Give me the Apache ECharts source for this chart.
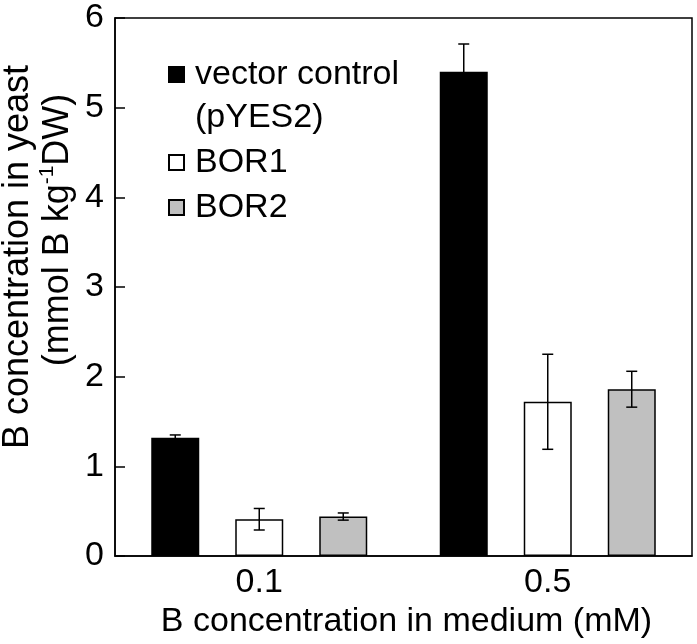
<!DOCTYPE html>
<html><head><meta charset="utf-8">
<script src="https://cdn.jsdelivr.net/npm/echarts@6/dist/echarts.min.js"></script>
<style>html,body{margin:0;padding:0;background:#fff}#c{width:697px;height:644px}</style>
</head><body><div id="c"></div>
<script>
// ---- data ----
const categories = ['0.1', '0.5'];
const seriesNames = ['vector control (pYES2)', 'BOR1', 'BOR2'];
const vectorMean = [1.32, 5.40];
const vectorErr  = [0.03, 0.31];
const bor1Mean   = [0.41, 1.72];
const bor1Err    = [0.12, 0.53];
const bor2Mean   = [0.44, 1.86];
const bor2Err    = [0.04, 0.20];
const yMin = 0, yMax = 6, yStep = 1;
const xTitle = 'B concentration in medium (mM)';
const yTitle1 = 'B concentration in yeast';

// ---- styles ----
const FONT = "'Liberation Sans', Arial, Helvetica, sans-serif";
const FS = 34;
const YFS = 36;
const BAR_W = 48, BAR_GAP = 36, CAP = 5.5;
const fills = ['#000000', '#ffffff', '#c0c0c0'];

const means = [vectorMean, bor1Mean, bor2Mean];
const errs = [vectorErr, bor1Err, bor2Err];
const errData = [];
means.forEach((m, s) => m.forEach((v, i) => errData.push([i, v - errs[s][i], v + errs[s][i], s])));

const chart = echarts.init(document.getElementById('c'), null, {renderer: 'canvas'});
const option = {
  animation: false,
  backgroundColor: '#ffffff',
  textStyle: {fontFamily: FONT},
  grid: {left: 115, right: 5, top: 18, bottom: 88, show: true, borderColor: '#000', borderWidth: 1.5, backgroundColor: 'transparent'},
  legend: {
    orient: 'vertical', left: 168, top: 10, padding: 0, itemGap: 2,
    itemWidth: 15, itemHeight: 15, icon: 'rect',
    data: seriesNames,
    selectedMode: false,
    formatter: function (name) {
      if (name === seriesNames[0]) return ' \nvector control\n(pYES2)';
      return name;
    },
    textStyle: {fontFamily: FONT, fontSize: FS, color: '#000', lineHeight: 43, padding: [0, 0, 0, 6]}
  },
  xAxis: {
    type: 'category', data: categories,
    axisLine: {lineStyle: {color: '#000', width: 1.5}},
    axisTick: {inside: true, length: 9, lineStyle: {color: '#000', width: 1.5}},
    axisLabel: {color: '#000', fontSize: FS, fontFamily: FONT, margin: 10},
    name: xTitle, nameLocation: 'middle', nameGap: 47,
    nameTextStyle: {color: '#000', fontSize: FS, fontFamily: FONT, padding: [0, 0, 0, 6]}
  },
  yAxis: {
    type: 'value', min: yMin, max: yMax, interval: yStep,
    splitLine: {show: false},
    axisLine: {show: true, lineStyle: {color: '#000', width: 1.5}},
    axisTick: {show: true, inside: true, length: 10, lineStyle: {color: '#000', width: 1.5}},
    axisLabel: {color: '#000', fontSize: FS, fontFamily: FONT, margin: 11}
  },
  graphic: [
    {type: 'text', x: 18, y: 257, rotation: Math.PI / 2,
     style: {text: yTitle1, font: YFS + 'px ' + FONT, fill: '#000', align: 'center', verticalAlign: 'middle'}},
    {type: 'text', x: 58, y: 230, rotation: Math.PI / 2,
     style: {text: '{a|(mmol B kg}{s|-1}{a|DW)}', fill: '#000', align: 'center', verticalAlign: 'middle',
       rich: {a: {fontSize: YFS, fontFamily: FONT, fill: '#000', lineHeight: 42},
              s: {fontSize: 21, fontFamily: FONT, fill: '#000', verticalAlign: 'top', lineHeight: 42}}}}
  ],
  series: [
    ...seriesNames.map((n, s) => ({
      name: n, type: 'bar', data: means[s],
      barWidth: BAR_W, barGap: (BAR_GAP / BAR_W * 100) + '%',
      itemStyle: {color: fills[s], borderColor: '#000', borderWidth: 1.5},
      emphasis: {disabled: true}
    })),
    {
      type: 'custom', data: errData, z: 10,
      encode: {x: 0, y: [1, 2]},
      renderItem: function (params, api) {
        const cat = api.value(0), lo = api.value(1), hi = api.value(2), s = api.value(3);
        const off = (s - 1) * (BAR_W + BAR_GAP);
        const pLo = api.coord([cat, lo]), pHi = api.coord([cat, hi]);
        const x = pLo[0] + off;
        const st = {stroke: '#000', lineWidth: 1.5};
        return {type: 'group', children: [
          {type: 'line', shape: {x1: x, y1: pLo[1], x2: x, y2: pHi[1]}, style: st},
          {type: 'line', shape: {x1: x - CAP, y1: pHi[1], x2: x + CAP, y2: pHi[1]}, style: st},
          {type: 'line', shape: {x1: x - CAP, y1: pLo[1], x2: x + CAP, y2: pLo[1]}, style: st}
        ]};
      }
    }
  ]
};
chart.setOption(option);
</script></body></html>
